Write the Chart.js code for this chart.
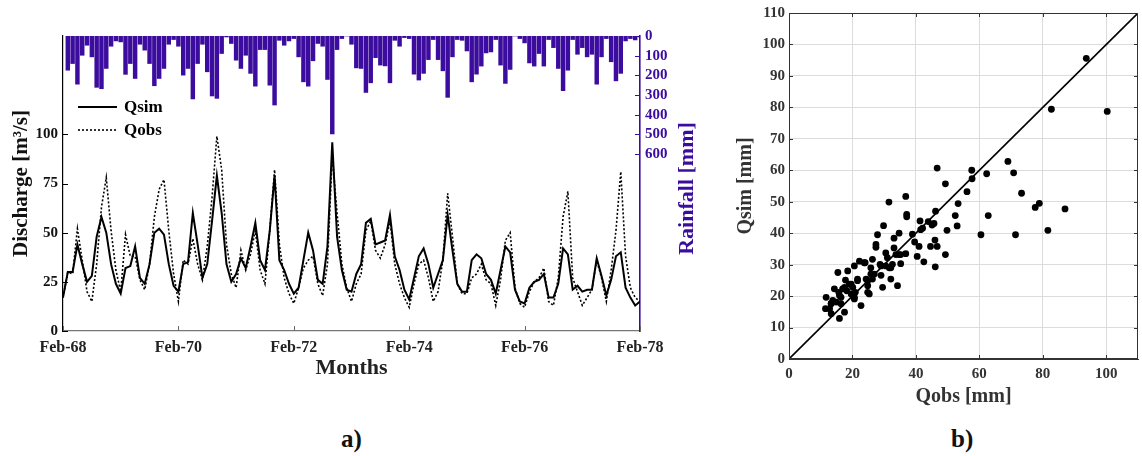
<!DOCTYPE html>
<html>
<head>
<meta charset="utf-8">
<script src="https://cdn.jsdelivr.net/npm/chart.js@4.4.1/dist/chart.umd.min.js"></script>
<style>
  body { margin: 0; background: #fff; width: 1142px; height: 456px; position: relative; overflow: hidden; font-family: "Liberation Serif", serif; }
  canvas { position: absolute; }
  #hydro { left: 0; top: 0; }
  #scatter { left: 730px; top: 0; }
  .tag { position: absolute; top: 426px; font-weight: bold; font-size: 25px; line-height: 1; color: #111; }
</style>
</head>
<body>
<canvas id="hydro" width="710" height="400"></canvas>
<canvas id="scatter" width="412" height="420"></canvas>
<div class="tag" style="left:341px">a)</div>
<div class="tag" style="left:951px">b)</div>
<script>
function $(id) {
  return document.getElementById(id);
}

const SERIF = "'Liberation Serif', 'Times New Roman', serif";
const PURPLE = "#3b0c9e";

// month axis runs Feb-68 .. Feb-78, one label every 24 months
const monthLabels = ["Feb-68", "Feb-70", "Feb-72", "Feb-74", "Feb-76", "Feb-78"];

// monthly rainfall [mm], months 1..120
const rainfall = [
  174, 140, 245, 98, 47, 106, 261, 268, 165, 52, 25, 30, 195, 140, 216, 42, 72, 140, 253, 216,
  165, 42, 18, 52, 199, 165, 320, 140, 42, 182, 305, 317, 89, 5, 38, 123, 165, 98, 190, 255,
  69, 69, 250, 351, 22, 47, 25, 13, 106, 233, 255, 126, 38, 52, 221, 498, 69, 13, 0, 42,
  162, 165, 287, 238, 110, 148, 152, 238, 22, 52, 8, 13, 194, 224, 190, 120, 18, 120, 177, 312,
  106, 18, 22, 76, 233, 194, 153, 86, 81, 18, 148, 241, 170, 0, 13, 35, 137, 153, 89, 153,
  18, 59, 165, 278, 174, 18, 93, 59, 106, 93, 245, 106, 13, 131, 228, 190, 25, 13, 20, 5
];

// simulated and observed discharge [m3/s], months 0..120
const qsim = [
  17, 30, 30, 44, 34, 25, 28, 48, 58, 50,
  34, 24, 19, 32, 33, 43, 27, 24, 34, 50,
  52, 49, 34, 23, 20, 34, 35, 60, 44, 27,
  34, 56, 79, 60, 34, 25, 29, 37, 32, 43,
  55, 36, 31, 51, 79, 36, 31, 24, 19, 22,
  36, 50, 41, 26, 24, 43, 96, 48, 31, 21,
  20, 29, 34, 55, 57, 44, 45, 46, 59, 38,
  31, 21, 16, 27, 38, 42, 34, 22, 29, 36,
  59, 41, 24, 20, 20, 36, 39, 37, 29, 26,
  19, 31, 43, 40, 21, 15, 14, 22, 25, 26,
  29, 17, 17, 24, 42, 39, 21, 23, 20, 21,
  21, 37, 28, 18, 26, 38, 40, 22, 17, 13, 15
];
const qobs = [
  17, 30, 29, 52, 36, 20, 15, 34, 63, 78,
  51, 31, 20, 49, 38, 38, 26, 21, 34, 58,
  72, 77, 51, 29, 15, 36, 34, 47, 34, 26,
  43, 68, 99, 82, 44, 29, 22, 41, 31, 39,
  51, 31, 24, 51, 82, 44, 27, 19, 14, 22,
  32, 36, 38, 24, 18, 34, 89, 60, 34, 22,
  15, 24, 29, 51, 56, 41, 37, 44, 56, 34,
  24, 17, 12, 24, 34, 36, 27, 15, 20, 36,
  70, 48, 24, 19, 19, 27, 29, 34, 26, 24,
  13, 26, 46, 50, 22, 14, 12, 20, 25, 27,
  32, 15, 13, 27, 58, 71, 27, 20, 13, 17,
  21, 36, 27, 15, 31, 51, 81, 38, 22, 17, 15
];

// monthly runoff pairs [mm]
const obsMm = [
  93.7, 82.7, 100.3, 69, 70.8, 73.3, 78.9, 77.6, 87, 81.6,
  62.3, 62.8, 57.6, 57.7, 56.1, 53.3, 52.4, 53, 49.8, 46.7,
  49.3, 46.2, 45.7, 43.9, 41.3, 42.1, 45.1, 36.8, 37.1, 37.1,
  31.5, 29.8, 60.5, 71.4, 46, 46.7, 44.6, 46.1, 49.3, 42.5,
  40.4, 41, 38.9, 39.6, 41.5, 36.8, 34.7, 34.7, 33.1, 33.1,
  35.2, 34.2, 32.1, 30.5, 30.5, 31.6, 32.6, 27.9, 27.4, 27.4,
  28.7, 29, 29.5, 26.3, 25.8, 25.8, 26.3, 24.8, 24.8, 24.8,
  25.3, 24, 22.2, 21.6, 20.6, 22.7, 20.1, 19, 20.9, 20.6,
  18.2, 17.8, 18.5, 15.4, 16.9, 15.9, 16.4, 17.5, 15.9, 14.3,
  13.8, 13.3, 11.7, 11.5, 12.8, 14.9, 15.7, 13.3, 23.7, 26.9,
  21.6, 19.6, 17.5, 24.3, 19.6, 20.6, 16.4, 13.3, 29, 31,
  32.1, 33.7, 35.2
];
const simMm = [
  95.6, 79.4, 78.7, 62.8, 59.2, 52.7, 49.5, 48.2, 47.7, 40.9,
  58.9, 45.6, 60, 57.3, 53.2, 49.4, 45.6, 42.3, 40.9, 60.7,
  55.7, 47, 43.1, 43.7, 43.9, 41.6, 42.6, 51.7, 46, 45.2,
  49.9, 42.4, 39.5, 39.5, 37.8, 35.8, 35.8, 29.3, 33.2, 30.9,
  32.6, 35.8, 39.7, 37.2, 41.1, 33.5, 33.2, 40, 38.4, 35.3,
  30.3, 23.3, 25.4, 33.7, 29.6, 29, 30.1, 39.5, 36.4, 35.5,
  30.1, 26.6, 22.8, 31.7, 29, 27, 25.4, 24.9, 23.3, 21.2,
  20.7, 30.6, 31.1, 24.9, 29.6, 17, 22.8, 23.8, 21.2, 19.1,
  21.7, 25.1, 28, 27.5, 22.3, 20.2, 17.6, 14.9, 12.9, 22.3,
  18.6, 14.4, 19.6, 16, 16, 18.1, 21.2, 17.7, 30.6, 27,
  25.4, 23.8, 22.8, 25.4, 20.7, 19.6, 19.6, 17.6, 29.6, 32.2,
  29, 33.2, 33.2
];

const dischargeTicks = [0, 25, 50, 75, 100];
const rainTicks = [0, 100, 200, 300, 400, 500, 600];
const obsTicks = [0, 20, 40, 60, 80, 100];
const simTicks = [0, 10, 20, 30, 40, 50, 60, 70, 80, 90, 100, 110];

function setTicks(values) {
  return scale => { scale.ticks = values.map(v => ({ value: v })); };
}

// short tick marks drawn inside the plot frame
const innerTicks = {
  id: "innerTicks",
  afterDatasetsDraw(chart, args, opts) {
    const c = chart.ctx;
    const a = chart.chartArea;
    c.save();
    if (opts.box) {
      c.strokeStyle = opts.box;
      c.lineWidth = 1;
      c.strokeRect(a.left + 0.5, a.top + 0.5, a.right - a.left - 1, a.bottom - a.top - 1);
    }
    opts.axes.forEach(ax => {
      const s = chart.scales[ax.id];
      c.strokeStyle = ax.color;
      c.lineWidth = 1;
      s.ticks.forEach(t => {
        const p = Math.round(s.getPixelForValue(t.value)) + 0.5;
        c.beginPath();
        if (ax.side == "left") { c.moveTo(a.left, p); c.lineTo(a.left + ax.len, p); }
        if (ax.side == "right") { c.moveTo(a.right, p); c.lineTo(a.right - ax.len, p); }
        if (ax.side == "bottom") { c.moveTo(p, a.bottom); c.lineTo(p, a.bottom - ax.len); }
        if (ax.side == "top") { c.moveTo(p, a.top); c.lineTo(p, a.top + ax.len); }
        c.stroke();
      });
    });
    c.restore();
  }
};

// legend box and the rainfall axis title
const hydroDecor = {
  id: "hydroDecor",
  afterDraw(chart) {
    const c = chart.ctx;
    const a = chart.chartArea;
    c.save();
    c.font = "bold 17px " + SERIF;
    c.fillStyle = "#000";
    c.strokeStyle = "#000";
    c.textBaseline = "middle";
    const lx = a.left + 15;
    const ly = a.top + 71;
    chart.data.datasets.slice(0, 2).forEach((ds, i) => {
      const y = ly + i * 23;
      c.lineWidth = ds.borderWidth;
      c.setLineDash(ds.borderDash || []);
      c.beginPath();
      c.moveTo(lx, y);
      c.lineTo(lx + 39, y);
      c.stroke();
      c.setLineDash([]);
      c.fillText(ds.label, lx + 46, y + 1);
    });
    c.translate(a.right + 47, (a.top + a.bottom) / 2 + 5);
    c.rotate(-Math.PI / 2);
    c.textAlign = "center";
    c.font = "bold 22px " + SERIF;
    c.fillStyle = PURPLE;
    c.fillText("Rainfall [mm]", 0, 0);
    c.restore();
  }
};

let hydroChart = new Chart($("hydro"), {
  type: "line",
  data: {
    datasets: [{
      type: "line",
      label: "Qsim",
      data: qsim.map((v, i) => ({ x: i, y: v })),
      borderColor: "#000",
      borderWidth: 2,
      pointRadius: 0,
      yAxisID: "y",
      order: 1
    }, {
      type: "line",
      label: "Qobs",
      data: qobs.map((v, i) => ({ x: i, y: v })),
      borderColor: "#000",
      borderWidth: 1.6,
      borderDash: [2, 2],
      pointRadius: 0,
      yAxisID: "y",
      order: 2
    }, {
      type: "bar",
      label: "Rainfall",
      data: rainfall.map((v, i) => ({ x: i + 1, y: v })),
      backgroundColor: PURPLE,
      barThickness: 3.8,
      yAxisID: "y2",
      order: 3
    }]
  },
  options: {
    responsive: false,
    animation: false,
    layout: { padding: { top: 36, left: 0, right: 0, bottom: 0 } },
    plugins: {
      legend: { display: false },
      tooltip: { enabled: false },
      innerTicks: {
        axes: [
          { id: "y", side: "left", len: 5, color: "#000" },
          { id: "x", side: "bottom", len: 5, color: "#666" },
          { id: "y2", side: "right", len: 5, color: PURPLE }
        ]
      }
    },
    scales: {
      x: {
        type: "linear",
        offset: false,
        min: 0,
        max: 120,
        afterBuildTicks: setTicks(monthLabels.map((l, i) => i * 24)),
        afterFit: s => { s.height = 69; },
        grid: { display: false, drawTicks: false, offset: false },
        border: { color: "#777", width: 1.2 },
        ticks: {
          callback: v => monthLabels[v / 24],
          font: { family: SERIF, size: 16, weight: "bold" },
          color: "#222",
          padding: 7,
          maxRotation: 0,
          autoSkip: false
        },
        title: {
          display: true,
          text: "Months",
          font: { family: SERIF, size: 22, weight: "bold" },
          color: "#222",
          padding: { top: 0, bottom: 18 }
        }
      },
      y: {
        position: "left",
        min: 0,
        max: 150,
        afterBuildTicks: setTicks(dischargeTicks),
        afterFit: s => { s.width = 63; },
        grid: { display: false, drawTicks: false },
        border: { color: "#000", width: 1.2 },
        ticks: {
          font: { family: SERIF, size: 15, weight: "bold" },
          color: "#111",
          padding: 5
        },
        title: {
          display: true,
          text: "Discharge [m³/s]",
          font: { family: SERIF, size: 21, weight: "bold" },
          color: "#111",
          padding: { top: 9, bottom: 0 }
        }
      },
      y2: {
        position: "right",
        reverse: true,
        min: 0,
        max: 1500,
        afterBuildTicks: setTicks(rainTicks),
        afterFit: s => { s.width = 70; },
        grid: { display: false, drawTicks: false },
        border: { color: PURPLE, width: 1.6 },
        ticks: {
          font: { family: SERIF, size: 15, weight: "bold" },
          color: PURPLE,
          padding: 5
        }
      }
    }
  },
  plugins: [innerTicks, hydroDecor]
});

let scatterChart = new Chart($("scatter"), {
  type: "scatter",
  data: {
    datasets: [{
      data: obsMm.map((v, i) => ({ x: v, y: simMm[i] })),
      backgroundColor: "#000",
      borderWidth: 0,
      pointRadius: 3.4,
      order: 2
    }, {
      type: "line",
      data: [{ x: 0, y: 0 }, { x: 110, y: 110 }],
      borderColor: "#000",
      borderWidth: 1.6,
      pointRadius: 0,
      order: 1
    }]
  },
  options: {
    responsive: false,
    animation: false,
    layout: { padding: { top: 8, right: 2, left: 0, bottom: 0 } },
    plugins: {
      legend: { display: false },
      tooltip: { enabled: false },
      innerTicks: {
        box: "#333",
        axes: [
          { id: "x", side: "bottom", len: 4, color: "#333" },
          { id: "x", side: "top", len: 4, color: "#333" },
          { id: "y", side: "left", len: 4, color: "#333" },
          { id: "y", side: "right", len: 4, color: "#333" }
        ]
      }
    },
    scales: {
      x: {
        type: "linear",
        min: 0,
        max: 110,
        afterBuildTicks: setTicks(obsTicks),
        afterFit: s => { s.height = 61; },
        grid: { color: "#dcdcdc", drawTicks: false },
        border: { color: "#333" },
        ticks: {
          font: { family: SERIF, size: 15, weight: "bold" },
          color: "#333",
          padding: 6
        },
        title: {
          display: true,
          text: "Qobs [mm]",
          font: { family: SERIF, size: 20, weight: "bold" },
          color: "#333",
          padding: { top: 0, bottom: 11 }
        }
      },
      y: {
        min: 0,
        max: 110,
        afterBuildTicks: setTicks(simTicks),
        afterFit: s => { s.width = 59; },
        grid: { color: "#dcdcdc", drawTicks: false },
        border: { color: "#333" },
        ticks: {
          font: { family: SERIF, size: 15, weight: "bold" },
          color: "#333",
          padding: 4
        },
        title: {
          display: true,
          text: "Qsim [mm]",
          font: { family: SERIF, size: 20, weight: "bold" },
          color: "#333",
          padding: { top: 4, bottom: 0 }
        }
      }
    }
  },
  plugins: [innerTicks]
});
</script>
</body>
</html>
